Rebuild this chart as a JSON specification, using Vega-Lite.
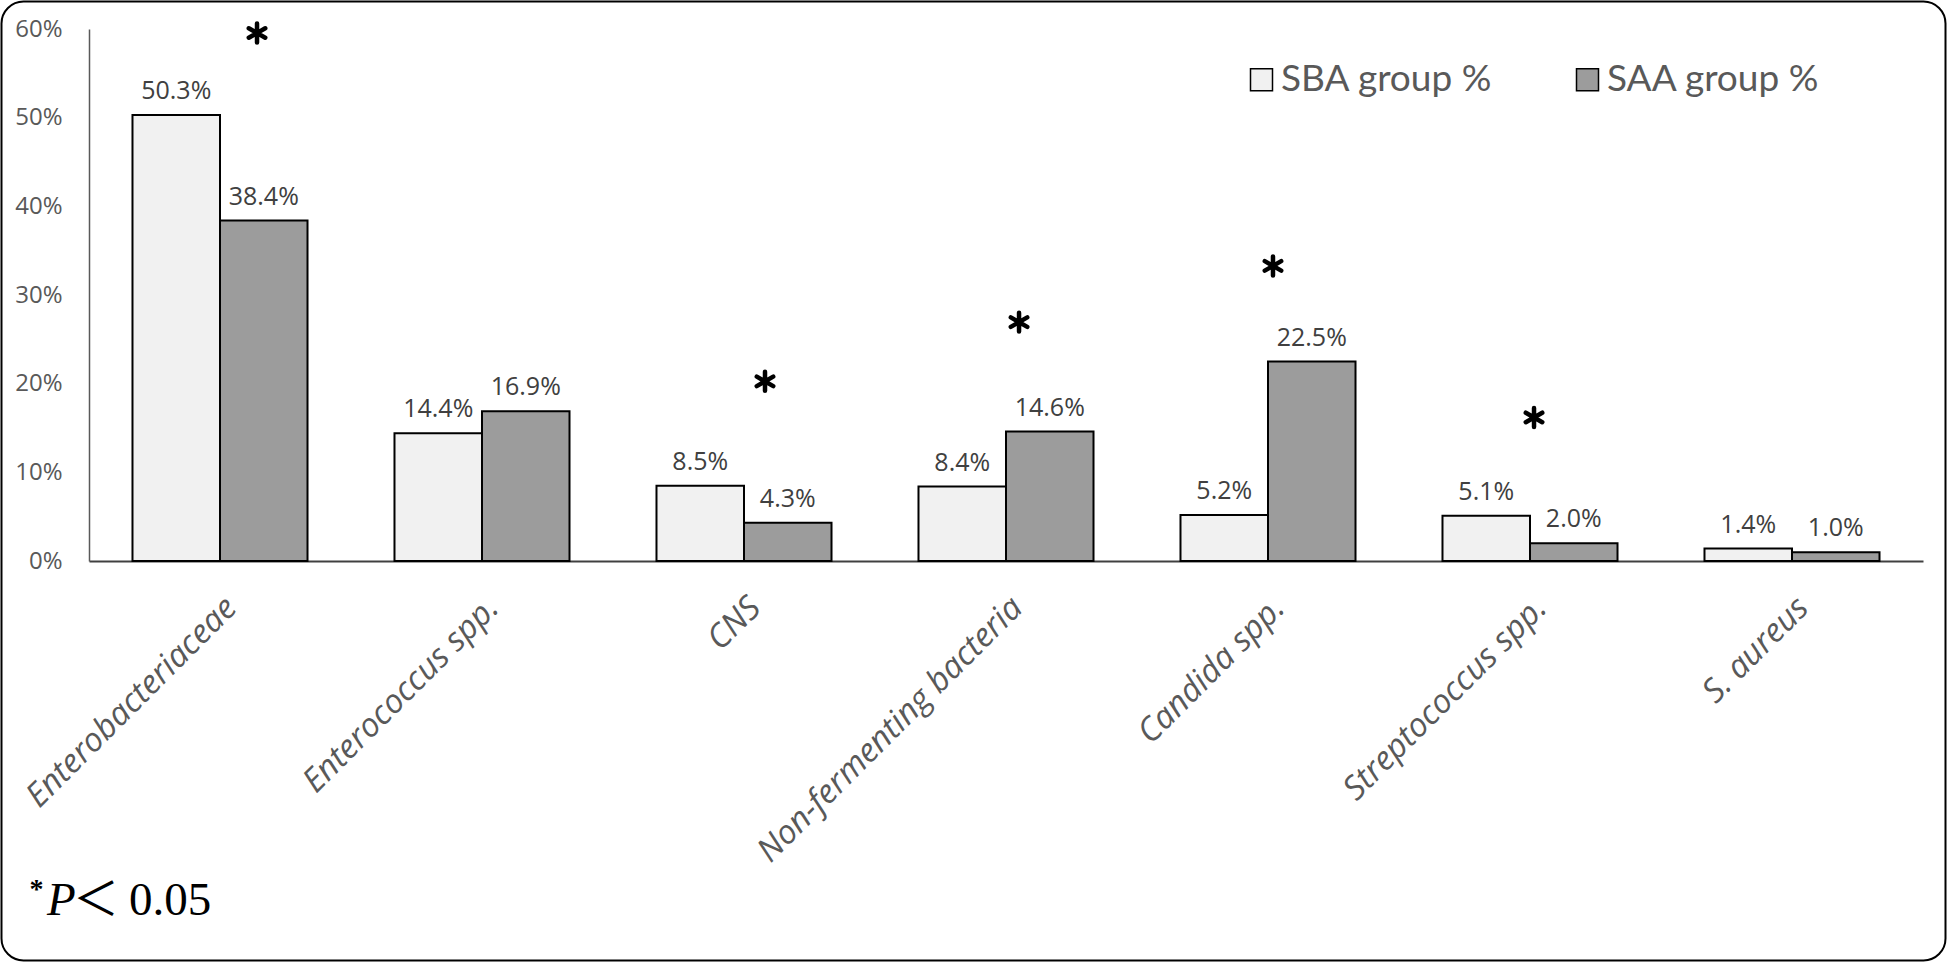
{
  "$schema": "https://vega.github.io/schema/vega-lite/v6.json",
  "width": 1834,
  "height": 532,
  "autosize": {"type": "none"},
  "padding": {"left": 89, "top": 29, "right": 24, "bottom": 401},
  "background": "white",
  "config": {"view": {"stroke": null}, "font": "Open Sans"},
  "datasets": {
    "bars": [
      {"cat": "Enterobacteriaceae", "group": "SBA group %", "value": 0.503},
      {"cat": "Enterobacteriaceae", "group": "SAA group %", "value": 0.384},
      {"cat": "Enterococcus spp.", "group": "SBA group %", "value": 0.144},
      {"cat": "Enterococcus spp.", "group": "SAA group %", "value": 0.169},
      {"cat": "CNS", "group": "SBA group %", "value": 0.085},
      {"cat": "CNS", "group": "SAA group %", "value": 0.043},
      {"cat": "Non-fermenting bacteria", "group": "SBA group %", "value": 0.084},
      {"cat": "Non-fermenting bacteria", "group": "SAA group %", "value": 0.146},
      {"cat": "Candida spp.", "group": "SBA group %", "value": 0.052},
      {"cat": "Candida spp.", "group": "SAA group %", "value": 0.225},
      {"cat": "Streptococcus spp.", "group": "SBA group %", "value": 0.051},
      {"cat": "Streptococcus spp.", "group": "SAA group %", "value": 0.020},
      {"cat": "S. aureus", "group": "SBA group %", "value": 0.014},
      {"cat": "S. aureus", "group": "SAA group %", "value": 0.010}
    ],
    "stars": [
      {"cat": "Enterobacteriaceae", "shift": 0.423, "level": 0.5955},
      {"cat": "CNS", "shift": 0.24, "level": 0.2026},
      {"cat": "Non-fermenting bacteria", "shift": 0.149, "level": 0.2694},
      {"cat": "Candida spp.", "shift": 0.057, "level": 0.3328},
      {"cat": "Streptococcus spp.", "shift": 0.046, "level": 0.1619}
    ]
  },
  "layer": [
    {
      "layer": [
        {
          "data": {"name": "bars"},
          "mark": {"type": "bar", "stroke": "black", "strokeWidth": 2},
          "encoding": {
            "x": {
              "field": "cat", "type": "nominal", "sort": null,
              "scale": {
                "domain": ["Enterobacteriaceae", "Enterococcus spp.", "CNS", "Non-fermenting bacteria", "Candida spp.", "Streptococcus spp.", "S. aureus"],
                "paddingInner": 0.332, "paddingOuter": 0.166
              },
              "axis": {
                "title": null, "labelAngle": -45, "labelAlign": "right", "labelBaseline": "top",
                "labelPadding": 30, "labelFont": "Open Sans", "labelFontStyle": "italic",
                "labelFontSize": 33, "labelColor": "#595959", "ticks": false,
                "domainColor": "#404040", "domainWidth": 2, "labelLimit": 0, "labelOverlap": false
              }
            },
            "xOffset": {
              "field": "group", "type": "nominal",
              "sort": ["SBA group %", "SAA group %"],
              "scale": {"domain": ["SBA group %", "SAA group %"], "paddingInner": 0, "paddingOuter": 0}
            },
            "y": {
              "field": "value", "type": "quantitative",
              "scale": {"domain": [0, 0.6], "nice": false},
              "axis": {
                "title": null, "values": [0, 0.1, 0.2, 0.3, 0.4, 0.5, 0.6], "format": ".0%",
                "ticks": false, "grid": false, "labelPadding": 27, "labelFontSize": 24,
                "labelFont": "Open Sans", "labelColor": "#595959",
                "domainColor": "#595959", "domainWidth": 1.5
              }
            },
            "fill": {
              "field": "group", "type": "nominal",
              "scale": {"domain": ["SBA group %", "SAA group %"], "range": ["#f1f1f1", "#9c9c9c"]},
              "legend": {
                "title": null, "orient": "none", "legendX": 1154, "legendY": 32,
                "direction": "horizontal", "symbolType": "square", "symbolSize": 484,
                "symbolStrokeColor": "black", "symbolStrokeWidth": 1.5,
                "labelFont": "Lato", "labelFontSize": 37, "labelColor": "#595959",
                "labelOffset": 1, "columnPadding": 76, "padding": 0, "labelLimit": 0
              }
            }
          }
        },
        {
          "data": {"name": "bars"},
          "mark": {"type": "text", "align": "center", "baseline": "alphabetic", "dy": -16, "fontSize": 25, "font": "Open Sans", "color": "#404040"},
          "encoding": {
            "x": {"field": "cat", "type": "nominal", "sort": null},
            "xOffset": {"field": "group", "type": "nominal", "sort": ["SBA group %", "SAA group %"]},
            "y": {"field": "value", "type": "quantitative"},
            "text": {"field": "value", "type": "quantitative", "format": ".1%"}
          }
        },
        {
          "data": {"name": "stars"},
          "mark": {
            "type": "point", "filled": false, "stroke": "black", "strokeWidth": 4.5, "strokeCap": "round",
            "shape": "M0,-1L0,1M-0.866,-0.5L0.866,0.5M-0.866,0.5L0.866,-0.5", "size": 360, "opacity": 1
          },
          "encoding": {
            "x": {"field": "cat", "type": "nominal", "sort": null},
            "xOffset": {"field": "shift", "type": "quantitative", "scale": {"domain": [-1, 1], "nice": false, "zero": false}},
            "y": {"field": "level", "type": "quantitative"}
          }
        }
      ],
      "resolve": {"scale": {"xOffset": "independent"}}
    },
    {
      "data": {"values": [{}]},
      "layer": [
        {
          "mark": {"type": "rect", "filled": false, "stroke": "black", "strokeWidth": 2, "cornerRadius": 22},
          "encoding": {
            "x": {"datum": 0.00077, "type": "quantitative", "scale": {"domain": [0.045711, 0.987673], "nice": false, "zero": false}, "axis": null},
            "x2": {"datum": 0.99923},
            "y": {"datum": 0.00156, "type": "quantitative", "scale": {"domain": [0.030146, 0.58316], "reverse": true, "nice": false, "zero": false}, "axis": null},
            "y2": {"datum": 0.99844}
          }
        },
        {
          "mark": {"type": "text", "text": "*", "font": "Liberation Serif", "fontWeight": "bold", "fontSize": 28, "align": "center", "baseline": "alphabetic", "color": "black"},
          "encoding": {
            "x": {"datum": 0.01875, "type": "quantitative"},
            "y": {"datum": 0.933, "type": "quantitative"}
          }
        },
        {
          "mark": {"type": "text", "text": "P", "font": "Liberation Serif", "fontStyle": "italic", "fontSize": 47, "align": "left", "baseline": "alphabetic", "color": "black"},
          "encoding": {
            "x": {"datum": 0.0242, "type": "quantitative"},
            "y": {"datum": 0.9512, "type": "quantitative"}
          }
        },
        {
          "mark": {"type": "text", "text": "＜", "font": "Noto Sans CJK SC", "fontSize": 46, "align": "center", "baseline": "alphabetic", "color": "black"},
          "encoding": {
            "x": {"datum": 0.0493, "type": "quantitative"},
            "y": {"datum": 0.9512, "type": "quantitative"}
          }
        },
        {
          "mark": {"type": "text", "text": "0.05", "font": "Liberation Serif", "fontSize": 47, "align": "left", "baseline": "alphabetic", "color": "black"},
          "encoding": {
            "x": {"datum": 0.0663, "type": "quantitative"},
            "y": {"datum": 0.9512, "type": "quantitative"}
          }
        }
      ]
    }
  ],
  "resolve": {"scale": {"x": "independent", "y": "independent"}}
}
